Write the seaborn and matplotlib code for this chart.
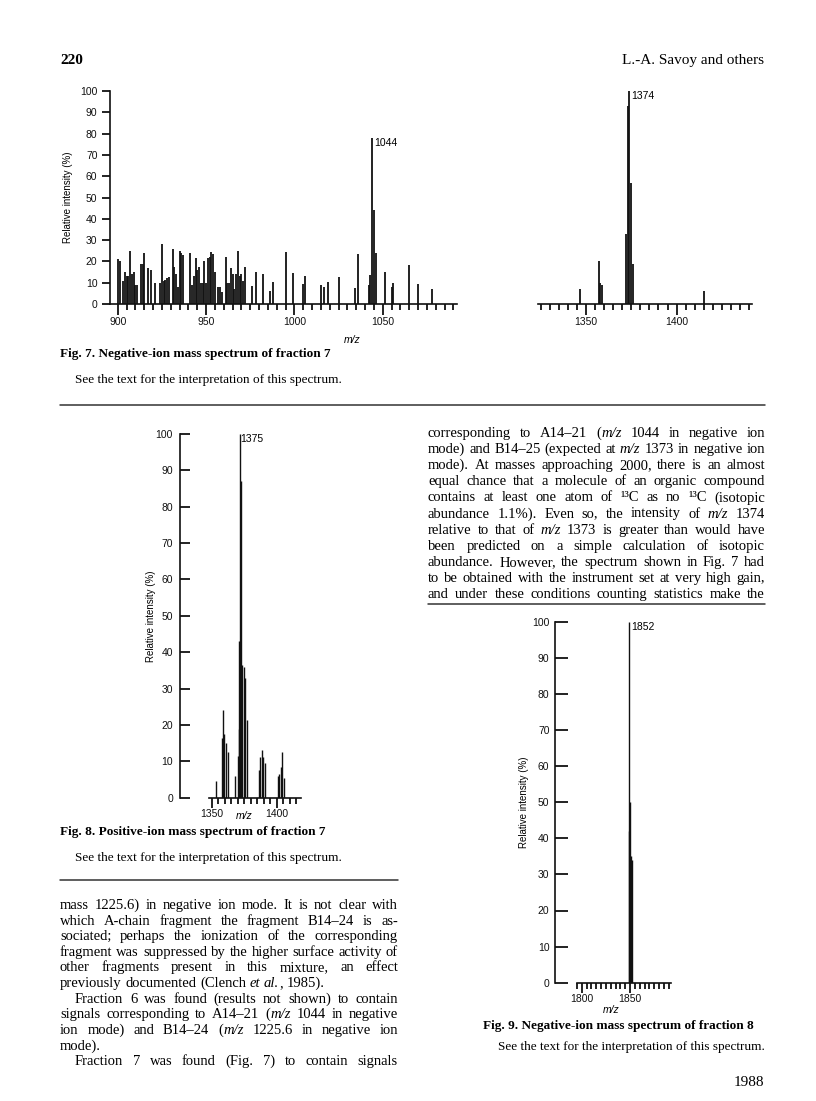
import numpy as np
import pandas as pd
import seaborn as sns
import matplotlib
matplotlib.use("Agg")
import matplotlib.pyplot as plt
from matplotlib.ticker import FixedLocator
from matplotlib.lines import Line2D

W, H = 816, 1101

# ---------------- data ----------------
# Fig. 7, left panel (negative ion, fraction 7)
fig7a_mz = [900, 901, 903, 904, 905, 906, 907, 908, 909, 910,
            911, 913, 914, 915, 917, 919, 921, 924, 925, 926,
            927, 928, 929, 931, 932, 933, 934, 935, 936, 937,
            941, 942, 943, 944, 945, 946, 947, 948, 949, 950,
            951, 952, 953, 954, 955, 957, 958, 959, 961, 962,
            963, 964, 965, 966, 967, 968, 969, 970, 971, 972,
            976, 978, 982, 986, 988, 995, 999, 1005, 1006, 1015,
            1017, 1019, 1025, 1034, 1036, 1042, 1043, 1044, 1045, 1046,
            1051, 1055, 1056, 1065, 1070, 1078]
fig7a_int = [21, 20, 11, 15, 13, 13, 25, 14, 15, 9,
             9, 19, 19, 24, 17, 16, 10, 10, 28, 11,
             11.5, 12, 12.5, 26, 17.5, 14, 8, 25, 24, 23,
             24, 9, 13, 21.5, 16, 17.5, 10, 10, 20, 10,
             21.5, 22, 24.5, 23.5, 15, 8, 8, 5.5, 22, 10,
             10, 17, 14, 7, 14, 25, 13, 14, 11, 17.5,
             8.5, 15, 14, 6, 10.5, 24.5, 14.5, 9.5, 13, 9,
             8, 10.5, 12.5, 7.5, 23.5, 9, 13.5, 78, 44, 24,
             15, 8, 10, 18.5, 9.5, 7]
fig7a_ticks = [900, 950, 1000, 1050]

# Fig. 7, right panel
fig7b_mz = [1347, 1357, 1358, 1359, 1372, 1373, 1374, 1375, 1376, 1415]
fig7b_int = [7, 20, 10, 9, 33, 93, 100, 57, 19, 6]
fig7b_ticks = [1350, 1400]

# Fig. 8 (positive ion, fraction 7)
fig8_mz = [1353.3, 1357.7, 1358.7, 1359.7, 1361.0, 1362.6,
           1368.2, 1370.3, 1370.8, 1371.2, 1371.5, 1372.4,
           1373.6, 1374.6, 1375.6, 1376.9,
           1386.4, 1387.4, 1388.7, 1389.7, 1390.8,
           1400.8, 1401.8, 1403.0, 1404.4, 1405.4]
fig8_int = [4.5, 16.5, 24, 17.5, 15, 12.5,
            6, 11.5, 19, 43, 100, 87,
            36.5, 36, 33, 21.5,
            7.5, 11.3, 13, 11.3, 9.5,
            6, 6.5, 8.5, 12.5, 5.3]
fig8_ticks = [1350, 1400]

# Fig. 9 (negative ion, fraction 8)
fig9_mz = [1848.5, 1849.3, 1850.0, 1851.0, 1852.0]
fig9_int = [42, 100, 50, 35, 34]
fig9_ticks = [1800, 1850]

y_ticks = list(range(0, 101, 10))

peak_labels = {"fig7a": (1044, 78, "1044"), "fig7b": (1374, 100, "1374"),
               "fig8": (1371.5, 100, "1375"), "fig9": (1849.3, 100, "1852")}

# ---------------- style ----------------
sns.set_theme(style="ticks")
plt.rcParams["font.family"] = ["Liberation Sans", "DejaVu Sans"]
plt.rcParams["axes.linewidth"] = 1.2
plt.rcParams["text.color"] = "black"
plt.rcParams["axes.labelcolor"] = "black"
plt.rcParams["xtick.color"] = "black"
plt.rcParams["ytick.color"] = "black"

fig = plt.figure(figsize=(W / 100, H / 100), dpi=100)
fig.patch.set_facecolor("white")
INK = "#111111"
SANS = 7.5


def add_ax(xlim, px0, px1, py0, py1):
    ax = fig.add_axes([px0 / W, 1 - py0 / H, (px1 - px0) / W, (py0 - py1) / H])
    ax.set_xlim(*xlim)
    ax.set_ylim(0, 100)
    ax.patch.set_alpha(0)
    for s in ax.spines.values():
        s.set_color(INK)
    return ax


def spectrum(ax, mz, inten, lw):
    df = pd.DataFrame({"mz": mz, "intensity": inten})
    ax.vlines(df["mz"], 0, df["intensity"], color=INK, lw=lw)


def xaxis_style(ax, major, minor, maj_len=8, min_len=4):
    ax.xaxis.set_major_locator(FixedLocator(major))
    ax.xaxis.set_minor_locator(FixedLocator(minor))
    ax.tick_params(axis="x", which="major", direction="out", length=maj_len, width=1.3,
                   labelsize=SANS, pad=1, colors=INK)
    ax.tick_params(axis="x", which="minor", direction="out", length=min_len, width=1.3, colors=INK)


def fig_text_px(x, y, s, **kw):
    return fig.text(x / W, 1 - y / H, s, **kw)


# ---- Fig 7 left ----
ax1 = add_ax((895.6, 1092), 110, 457, 304, 91)
spectrum(ax1, fig7a_mz, fig7a_int, 1.3)
sns.despine(ax=ax1)
ax1.spines["left"].set_bounds(0, 100)
xaxis_style(ax1, fig7a_ticks, np.arange(895, 1092, 5), 8, 4)
ax1.set_yticks(y_ticks)
ax1.tick_params(axis="y", direction="out", length=6, width=1.3, labelsize=SANS, pad=3, colors=INK)
ax1.set_ylabel("Relative intensity (%)", fontsize=7, labelpad=5)
x, y, t = peak_labels["fig7a"]
ax1.text(x + 1.2, y, t, fontsize=SANS, va="top", ha="left")

# ---- Fig 7 right ----
ax2 = add_ax((1323.4, 1441.4), 537.7, 751.7, 304, 91)
spectrum(ax2, fig7b_mz, fig7b_int, 1.3)
sns.despine(ax=ax2, left=True)
ax2.set_yticks([])
xaxis_style(ax2, fig7b_ticks, np.arange(1325, 1441, 5), 8, 4)
x, y, t = peak_labels["fig7b"]
ax2.text(x + 1.2, y, t, fontsize=SANS, va="top", ha="left")

# ---- Fig 8 ----
ax3 = add_ax((1325.6, 1425), 180, 309.2, 797.7, 434)
spectrum(ax3, fig8_mz, fig8_int, 1.0)
sns.despine(ax=ax3)
ax3.spines["left"].set_bounds(0, 100)
ax3.spines["bottom"].set_bounds(1348, 1419)
xaxis_style(ax3, fig8_ticks, np.arange(1350, 1420, 5), 7, 4)
ax3.set_yticks(y_ticks)
ax3.tick_params(axis="y", direction="in", length=7, width=1.3, labelsize=SANS, pad=5, colors=INK)
ax3.set_ylabel("Relative intensity (%)", fontsize=7, labelpad=0)
x, y, t = peak_labels["fig8"]
ax3.text(x + 0.8, y, t, fontsize=SANS, va="top", ha="left")

# ---- Fig 9 ----
ax4 = add_ax((1772.4, 1895), 555, 673.6, 982.7, 621.7)
spectrum(ax4, fig9_mz, fig9_int, 1.0)
sns.despine(ax=ax4)
ax4.spines["left"].set_bounds(0, 100)
ax4.spines["bottom"].set_bounds(1795.5, 1892)
xaxis_style(ax4, fig9_ticks, np.arange(1795, 1893, 5), 7, 4)
ax4.set_yticks(y_ticks)
ax4.tick_params(axis="y", direction="in", length=9, width=1.3, labelsize=SANS, pad=4, colors=INK)
ax4.set_ylabel("Relative intensity (%)", fontsize=7, labelpad=2)
x, y, t = peak_labels["fig9"]
ax4.text(x + 1.5, y, t, fontsize=SANS, va="top", ha="left")

# m/z axis titles
fig_text_px(352, 340, "m/z", fontsize=SANS, style="italic", ha="center", va="center")
fig_text_px(244, 816, "m/z", fontsize=SANS, style="italic", ha="center", va="center")
fig_text_px(611, 1010, "m/z", fontsize=SANS, style="italic", ha="center", va="center")

# ---------------- page text ----------------
renderer = fig.canvas.get_renderer()
SERIF = ["Liberation Serif", "DejaVu Serif"]


def parse_runs(line):
    words, italic = [], False
    for w in line.split(" "):
        runs, buf = [], ""
        for ch in w:
            if ch == "_":
                if buf:
                    runs.append((buf, italic))
                    buf = ""
                italic = not italic
            else:
                buf += ch
        if buf:
            runs.append((buf, italic))
        words.append(runs)
    return words


def text_line(x0, x1, yb, line, size=10.5, justify=True, weight="normal"):
    items = []
    for runs in parse_runs(line):
        wr = []
        for txt, it in runs:
            t = fig.text(0, 0, txt, fontsize=size, family=SERIF, weight=weight,
                         style="italic" if it else "normal", ha="left", va="baseline")
            wr.append((t, t.get_window_extent(renderer).width))
        items.append(wr)
    word_w = [sum(w for _, w in wr) for wr in items]
    sp = size * 100 / 72 * 0.25
    gap = (x1 - x0 - sum(word_w)) / (len(items) - 1) if (justify and len(items) > 1) else sp
    x = x0
    for wr, ww in zip(items, word_w):
        xx = x
        for t, w in wr:
            t.set_position((xx / W, 1 - yb / H))
            xx += w
        x += ww + gap


def rule(x0, x1, y):
    fig.add_artist(Line2D([x0 / W, x1 / W], [1 - y / H] * 2, transform=fig.transFigure,
                          color="#333333", lw=1.1))


# header
fig_text_px(60, 64, "220", fontsize=11, family=SERIF, weight="bold", ha="left", va="baseline")
fig_text_px(764, 64, "L.-A. Savoy and others", fontsize=11, family=SERIF, ha="right", va="baseline")

# captions
CAP = 9.5
fig_text_px(60, 357, "Fig. 7. Negative-ion mass spectrum of fraction 7", fontsize=CAP,
            family=SERIF, weight="bold", ha="left", va="baseline")
fig_text_px(75, 383, "See the text for the interpretation of this spectrum.", fontsize=CAP,
            family=SERIF, ha="left", va="baseline")
rule(60, 765, 405)

fig_text_px(60, 835, "Fig. 8. Positive-ion mass spectrum of fraction 7", fontsize=CAP,
            family=SERIF, weight="bold", ha="left", va="baseline")
fig_text_px(75, 861, "See the text for the interpretation of this spectrum.", fontsize=CAP,
            family=SERIF, ha="left", va="baseline")
rule(60, 398, 880)

fig_text_px(483, 1029, "Fig. 9. Negative-ion mass spectrum of fraction 8", fontsize=CAP,
            family=SERIF, weight="bold", ha="left", va="baseline")
fig_text_px(498, 1050, "See the text for the interpretation of this spectrum.", fontsize=CAP,
            family=SERIF, ha="left", va="baseline")
fig_text_px(764, 1086, "1988", fontsize=11, family=SERIF, ha="right", va="baseline")

# right column text
right_lines = [
    "corresponding to A14–21 (_m/z_ 1044 in negative ion",
    "mode) and B14–25 (expected at _m/z_ 1373 in negative ion",
    "mode). At masses approaching 2000, there is an almost",
    "equal chance that a molecule of an organic compound",
    "contains at least one atom of ¹³C as no ¹³C (isotopic",
    "abundance 1.1%). Even so, the intensity of _m/z_ 1374",
    "relative to that of _m/z_ 1373 is greater than would have",
    "been predicted on a simple calculation of isotopic",
    "abundance. However, the spectrum shown in Fig. 7 had",
    "to be obtained with the instrument set at very high gain,",
    "and under these conditions counting statistics make the",
]
for i, ln in enumerate(right_lines):
    text_line(428, 765, 437 + i * 16.1, ln)
rule(428, 765, 604)

# left column text
left_lines = [
    (60, True, "mass 1225.6) in negative ion mode. It is not clear with"),
    (60, True, "which A-chain fragment the fragment B14–24 is as-"),
    (60, True, "sociated; perhaps the ionization of the corresponding"),
    (60, True, "fragment was suppressed by the higher surface activity of"),
    (60, True, "other fragments present in this mixture, an effect"),
    (60, False, "previously documented (Clench _et al._, 1985)."),
    (75, True, "Fraction 6 was found (results not shown) to contain"),
    (60, True, "signals corresponding to A14–21 (_m/z_ 1044 in negative"),
    (60, True, "ion mode) and B14–24 (_m/z_ 1225.6 in negative ion"),
    (60, False, "mode)."),
    (75, True, "Fraction 7 was found (Fig. 7) to contain signals"),
]
for i, (x0, just, ln) in enumerate(left_lines):
    text_line(x0, 398, 909 + i * 15.6, ln, justify=just)

fig.savefig("out.png", dpi=100, facecolor="white")
